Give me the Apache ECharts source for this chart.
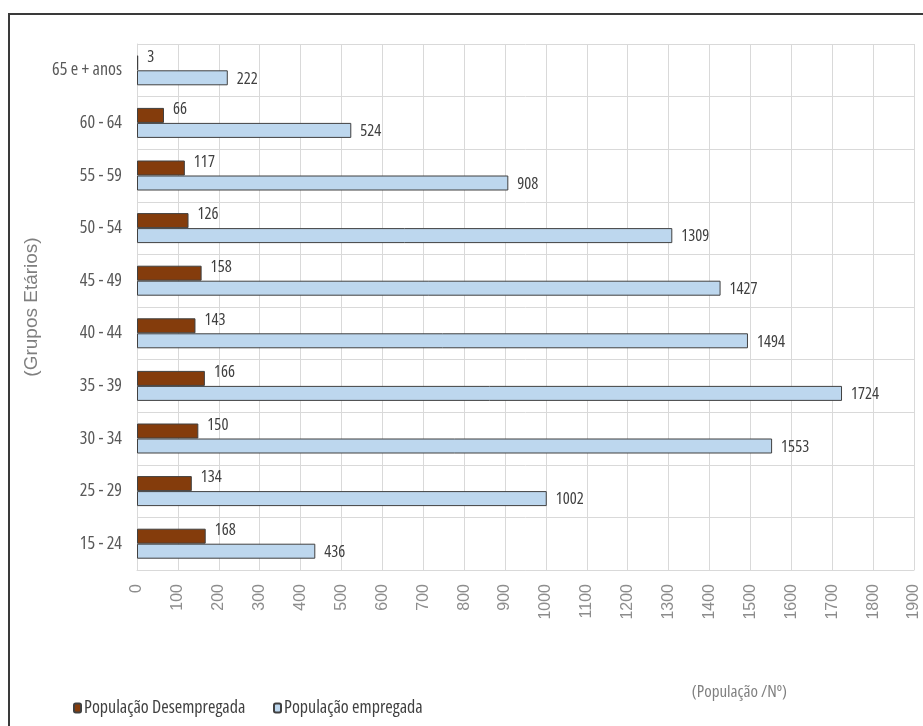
<!DOCTYPE html>
<html><head><meta charset="utf-8">
<script src="https://cdn.jsdelivr.net/npm/echarts@6/dist/echarts.min.js"></script>
<style>html,body{margin:0;padding:0;background:#fff}#c{width:923px;height:726px}</style>
</head><body><div id="c"></div>
<script>
const categories = ['15 - 24','25 - 29','30 - 34','35 - 39','40 - 44','45 - 49','50 - 54','55 - 59','60 - 64','65 e + anos'];
const desempregada = [168,134,150,166,143,158,126,117,66,3];
const empregada = [436,1002,1553,1724,1494,1427,1309,908,524,222];
const xTicks = [0,100,200,300,400,500,600,700,800,900,1000,1100,1200,1300,1400,1500,1600,1700,1800,1900];
const seriesNames = ['População Desempregada','População empregada'];

const narrow = '"Open Sans"';
const chart = echarts.init(document.getElementById('c'));
chart.setOption({
  animation:false,
  graphic:[{type:'rect',shape:{x:9,y:14,width:1000,height:1000},style:{fill:'none',stroke:'#3a3a3a',lineWidth:2},silent:true}],
  grid:{left:137,right:9,top:44,bottom:156,containLabel:false},
  legend:[
    {left:68,top:694,itemWidth:7,itemHeight:9,
     textStyle:{fontFamily:narrow,fontWeight:'condensed',fontSize:18,color:'#404040',padding:[0,0,0,-2]},
     data:[seriesNames[0]]},
    {left:268,top:694,itemWidth:7,itemHeight:9,
     textStyle:{fontFamily:narrow,fontWeight:'condensed',fontSize:18,color:'#404040',padding:[0,0,0,-2]},
     data:[seriesNames[1]]}
  ],
  xAxis:{type:'value',min:0,max:1900,interval:100,
    name:'(População /Nº)',nameLocation:'end',nameGap:0,
    nameTextStyle:{fontFamily:narrow,fontWeight:'condensed',fontSize:17,color:'#808080',align:'right',verticalAlign:'top',padding:[114,127,0,0]},
    axisLine:{show:true,lineStyle:{color:'#d9d9d9'}},axisTick:{show:false},
    splitLine:{lineStyle:{color:'#d9d9d9'}},
    axisLabel:{rotate:90,margin:14,fontFamily:'"Liberation Sans",sans-serif',fontSize:16,color:'#8c8c8c',
      formatter:v=>xTicks.includes(v)?String(v):''}},
  yAxis:{type:'category',data:categories,
    name:'(Grupos Etários)',nameLocation:'middle',nameGap:82,nameRotate:90,
    nameTextStyle:{fontFamily:'"Liberation Sans",sans-serif',fontSize:19,color:'#7f7f7f'},
    axisLine:{show:true,lineStyle:{color:'#d9d9d9'}},axisTick:{show:false},
    splitLine:{show:true,lineStyle:{color:'#d9d9d9'}},
    axisLabel:{margin:15,fontFamily:narrow,fontWeight:'condensed',fontSize:18,color:'#595959'}},
  series:[
    {name:seriesNames[0],type:'bar',data:desempregada,
      barWidth:15,barGap:'0%',
      itemStyle:{color:'#843c0c',borderColor:'#404040',borderWidth:1},
      label:{show:true,position:'right',distance:9,offset:[0,-6],fontFamily:narrow,fontWeight:'condensed',fontSize:16.5,color:'#404040'}},
    {name:seriesNames[1],type:'bar',data:empregada,
      barWidth:15,barGap:'0%',
      itemStyle:{color:'#bdd7ee',borderColor:'#404040',borderWidth:1},
      label:{show:true,position:'right',distance:9,offset:[0,1],fontFamily:narrow,fontWeight:'condensed',fontSize:16.5,color:'#404040'}}
  ]
});
</script></body></html>
